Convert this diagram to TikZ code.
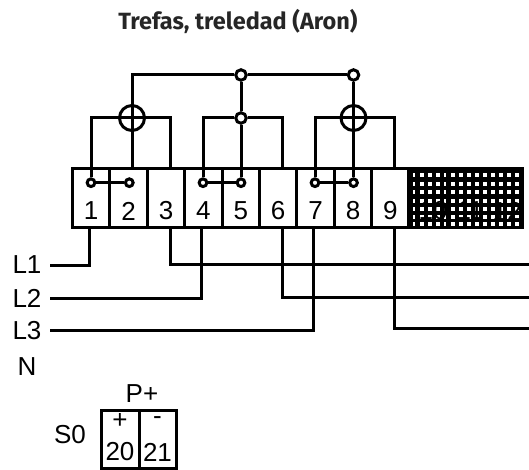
\documentclass[tikz,border=0pt]{standalone}
\usepackage{fontspec}
\setmainfont{Liberation Sans}
\newfontfamily\titlefont{Fira Sans}
\usetikzlibrary{positioning}
\begin{document}
\begin{tikzpicture}[x=1pt,y=-1pt]
\tikzset{
  wire/.style={line width=3pt, line join=miter},
  cell/.style={draw, line width=3pt, minimum width=37.4pt, minimum height=58pt, inner sep=0pt, fill=white},
  junction/.style={circle, draw, line width=3pt, fill=white, minimum size=#1, inner sep=0pt},
  coil/.style={circle, draw, line width=3pt, minimum size=25pt, inner sep=0pt},
  label/.style={font=\fontsize{26}{26}\selectfont, inner sep=0pt},
  num/.style={font=\fontsize{26}{26}\selectfont, inner sep=0pt},
}
\useasboundingbox (0,0) rectangle (529,470);
\node[font=\titlefont\bfseries\fontsize{23.5}{23.5}\selectfont, text=black!85, inner sep=0pt] (title) at (238,21) {Trefas, treledad (Aron)};

% terminal block
\foreach \n/\cx in {1/91.2,2/128.6,3/166,4/203.4,5/240.8,6/278.2,7/315.6,8/353,9/390.4}{
  \node[cell] (t\n) at (\cx,198) {};
  \node[num] (d\n) at (\cx,211) {\n};
}
\node[draw, line width=3pt, fill=black, minimum width=114pt, minimum height=58pt, inner sep=0pt] (blind) at (465.5,198) {};
\foreach \ry in {173,182,190,199,207,215,222}{
  \foreach \cx in {420,428,436,451,459,467,475,483,491,499,507,515}{
    \fill[white] (\cx,\ry) rectangle +(4,4);
  }
  \foreach \cx in {413,444}{
    \fill[white] (\cx,\ry) rectangle +(1.5,4);
  }
}
\node[num] (d10) at (433,211) {10};
\node[num] (d11) at (470,211) {11};
\node[num] (d12) at (507,211) {12};

% upper wiring
\coordinate (w2) at (132,169);
\node[junction=10.5pt] (j5) at (241,118) {};
\node[junction=10.5pt] (top5) at (241,75) {};
\node[junction=10.5pt] (top8) at (353.5,75) {};
\node[coil] (ct1) at (132,118) {};
\node[coil] (ct3) at (353.5,118) {};
\node[junction=7.7pt] (s1) at (91,182.7) {};
\node[junction=7.7pt] (s2) at (129.3,182.7) {};
\node[junction=7.7pt] (s4) at (203,182.7) {};
\node[junction=7.7pt] (s5) at (241,182.7) {};
\node[junction=7.7pt] (s7) at (315,182.7) {};
\node[junction=7.7pt] (s8) at (353.5,182.7) {};
\coordinate (w3) at (170,169);
\coordinate (w6) at (282,169);
\coordinate (w9) at (394,169);
\draw[wire] (w2) -- (132,75) -- (top5);
\draw[wire] (top5) -- (top8);
\draw[wire] (top5) -- (j5);
\draw[wire] (j5) -- (s5);
\draw[wire] (top8) -- (s8);
\draw[wire] (s1) -- (91,118) -- (170,118) -- (w3);
\draw[wire] (s4) |- (j5);
\draw[wire] (j5) -| (w6);
\draw[wire] (s7) -- (315,118) -- (394,118) -- (w9);
\draw[wire] (s1) -- (s2);
\draw[wire] (s4) -- (s5);
\draw[wire] (s7) -- (s8);

% lines
\node[label] (L1) at (27,265) {L1};
\node[label] (L2) at (27,298) {L2};
\node[label] (L3) at (27,331) {L3};
\node[label] (N) at (27,367) {N};
\coordinate (l1s) at (50,265.7);
\coordinate (l2s) at (50,298);
\coordinate (l3s) at (50,330);
\coordinate (b1) at (89,227);
\coordinate (b3) at (170,227);
\coordinate (b4) at (201.5,227);
\coordinate (b6) at (282,227);
\coordinate (b7) at (313.5,227);
\coordinate (b9) at (394,227);
\coordinate (o3) at (529,264);
\coordinate (o6) at (529,297);
\coordinate (o9) at (529,328);
\draw[wire] (l1s) -| (b1);
\draw[wire] (l2s) -| (b4);
\draw[wire] (l3s) -| (b7);
\draw[wire] (b3) |- (o3);
\draw[wire] (b6) |- (o6);
\draw[wire] (b9) |- (o9);

% pulse output
\node[draw, line width=3pt, minimum width=37.4pt, minimum height=58pt, inner sep=0pt] (p20) at (120.3,439.7) {};
\node[draw, line width=3pt, minimum width=37.4pt, minimum height=58pt, inner sep=0pt] (p21) at (157.7,439.7) {};
\node[label] (pplus) at (142,394) {P+};
\node[label] (s0) at (70,435) {S0};
\node[num] (plus) at (120,421) {+};
\node[num] (minus) at (157.5,421) {-};
\node[num] (n20) at (120,452) {20};
\node[num] (n21) at (157.5,452) {21};
\end{tikzpicture}
\end{document}
